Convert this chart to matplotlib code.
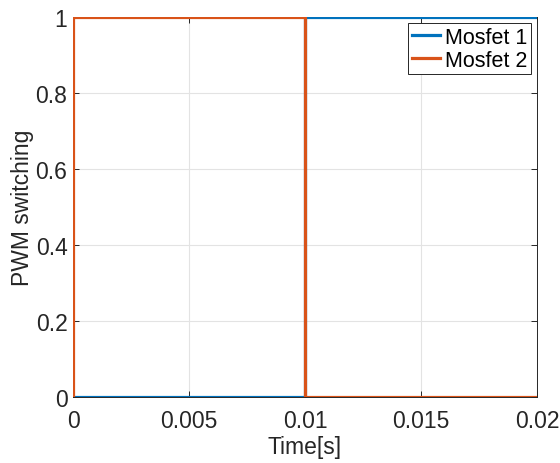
import matplotlib
matplotlib.use("Agg")
import matplotlib.pyplot as plt

# Switching waveforms of the two MOSFETs (complementary PWM)
t_m1 = [0.0, 0.01, 0.01, 0.02]
s_m1 = [0.0, 0.0, 1.0, 1.0]
t_m2 = [0.0, 0.0, 0.01, 0.01, 0.02]
s_m2 = [0.0, 1.0, 1.0, 0.0, 0.0]

x_ticks = [0, 0.005, 0.01, 0.015, 0.02]
x_tick_labels = ["0", "0.005", "0.01", "0.015", "0.02"]
y_ticks = [0, 0.2, 0.4, 0.6, 0.8, 1]
y_tick_labels = ["0", "0.2", "0.4", "0.6", "0.8", "1"]

plt.rcParams["font.family"] = ["Liberation Sans", "DejaVu Sans"]

fig = plt.figure(figsize=(5.6, 4.64), dpi=100)
ax = fig.add_axes([73 / 560, 1 - 398 / 464, (537 - 73) / 560, (398 - 18) / 464])

ax.plot(t_m1, s_m1, color="#0072BD", lw=2.3, label="Mosfet 1", zorder=3)
ax.plot(t_m2, s_m2, color="#D95319", lw=2.3, label="Mosfet 2", zorder=4)

ax.set_xlim(0, 0.02)
ax.set_ylim(0, 1)
ax.set_xticks(x_ticks)
ax.set_xticklabels(x_tick_labels)
ax.set_yticks(y_ticks)
ax.set_yticklabels(y_tick_labels)

ax.grid(True, color="#e3e3e3", lw=0.8)
ax.set_axisbelow(True)
for sp in ax.spines.values():
    sp.set_color("#262626")
    sp.set_linewidth(0.7)
ax.tick_params(direction="in", length=4, width=0.7, colors="#262626",
               labelsize=16.5, top=True, right=True, pad=4)
ax.tick_params(axis="x", pad=9)

ax.set_xlabel("Time[s]", fontsize=16.5, color="#262626", labelpad=2)
ax.set_ylabel("PWM switching", fontsize=16.5, color="#262626", labelpad=1)

leg = ax.legend(loc="upper right", fontsize=15.5, frameon=True, fancybox=False,
                edgecolor="#262626", framealpha=1, borderpad=0.15,
                labelspacing=0.1, handlelength=1.3, handletextpad=0.25,
                borderaxespad=0.3)
leg.get_frame().set_linewidth(0.7)

fig.savefig("out.png", dpi=100)
